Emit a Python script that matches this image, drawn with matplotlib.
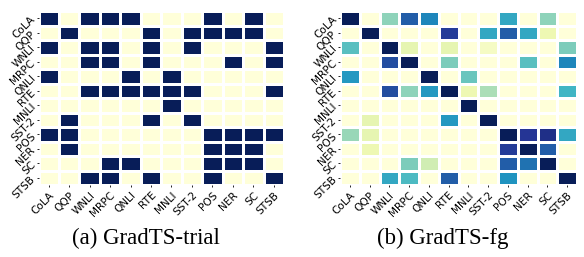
import numpy as np
import matplotlib
matplotlib.use("Agg")
import matplotlib.pyplot as plt
import seaborn as sns

tasks = ["CoLA", "QQP", "WNLI", "MRPC", "QNLI", "RTE", "MNLI", "SST-2", "POS", "NER", "SC", "STSB"]

trial = [
    [1, 0, 1, 1, 1, 0, 0, 0, 1, 0, 1, 0],
    [0, 1, 0, 0, 0, 1, 0, 1, 1, 1, 1, 0],
    [1, 0, 1, 1, 0, 1, 0, 1, 0, 0, 0, 1],
    [0, 0, 1, 1, 0, 1, 0, 0, 0, 1, 0, 1],
    [1, 0, 0, 0, 1, 0, 1, 0, 0, 0, 0, 0],
    [0, 0, 1, 1, 1, 1, 1, 1, 0, 0, 0, 1],
    [0, 0, 0, 0, 0, 0, 1, 0, 0, 0, 0, 0],
    [0, 1, 0, 0, 0, 1, 0, 1, 0, 0, 0, 0],
    [1, 1, 0, 0, 0, 0, 0, 0, 1, 1, 1, 1],
    [0, 1, 0, 0, 0, 0, 0, 0, 1, 1, 1, 0],
    [0, 0, 0, 1, 1, 0, 0, 0, 1, 1, 1, 0],
    [0, 0, 1, 1, 0, 1, 0, 0, 1, 0, 0, 1],
]

fg = [
    [1.00, 0.00, 0.35, 0.75, 0.65, 0.00, 0.00, 0.00, 0.55, 0.00, 0.35, 0.00],
    [0.00, 1.00, 0.00, 0.00, 0.00, 0.85, 0.00, 0.55, 0.75, 0.55, 0.12, 0.00],
    [0.45, 0.00, 1.00, 0.15, 0.00, 0.15, 0.00, 0.07, 0.00, 0.00, 0.00, 0.38],
    [0.00, 0.00, 0.80, 1.00, 0.00, 0.38, 0.00, 0.00, 0.00, 0.45, 0.00, 0.65],
    [0.60, 0.00, 0.00, 0.00, 1.00, 0.00, 0.42, 0.00, 0.00, 0.00, 0.00, 0.00],
    [0.00, 0.00, 0.80, 0.35, 0.60, 1.00, 0.12, 0.30, 0.00, 0.00, 0.00, 0.50],
    [0.00, 0.00, 0.00, 0.00, 0.00, 0.00, 1.00, 0.00, 0.00, 0.00, 0.00, 0.00],
    [0.00, 0.15, 0.00, 0.00, 0.00, 0.60, 0.00, 1.00, 0.00, 0.00, 0.00, 0.00],
    [0.33, 0.15, 0.00, 0.00, 0.00, 0.00, 0.00, 0.00, 1.00, 0.87, 0.90, 0.55],
    [0.00, 0.12, 0.00, 0.00, 0.00, 0.00, 0.00, 0.00, 0.85, 1.00, 0.75, 0.00],
    [0.00, 0.00, 0.00, 0.38, 0.22, 0.00, 0.00, 0.00, 0.75, 0.70, 1.00, 0.00],
    [0.00, 0.00, 0.55, 0.48, 0.00, 0.75, 0.00, 0.00, 0.62, 0.00, 0.00, 1.00],
]

captions = ["(a) GradTS-trial", "(b) GradTS-fg"]

fig = plt.figure(figsize=(5.84, 2.57), dpi=100)
ax1 = fig.add_axes([38.5 / 584, 1 - 185 / 257, (284 - 38.5) / 584, (185 - 11) / 257])
ax2 = fig.add_axes([340 / 584, 1 - 185 / 257, (577 - 340) / 584, (185 - 11) / 257])

for ax, data, cap in zip([ax1, ax2], [trial, fg], captions):
    sns.heatmap(np.array(data), ax=ax, cmap="YlGnBu", vmin=0, vmax=1, cbar=False,
                linewidths=1, linecolor="white",
                xticklabels=tasks, yticklabels=tasks)
    ax.set_xticklabels(tasks, rotation=45, ha="right", rotation_mode="anchor", fontsize=7.6)
    ax.set_yticklabels(tasks, rotation=45, ha="right", va="center", rotation_mode="anchor", fontsize=7.6)
    ax.tick_params(length=1.5, width=0.6, pad=2)

fig.text(146 / 584, 1 - 238 / 257, captions[0], ha="center", va="center",
         fontsize=16.5, family="Liberation Serif")
fig.text(443 / 584, 1 - 238 / 257, captions[1], ha="center", va="center",
         fontsize=16.5, family="Liberation Serif")

fig.savefig("out.png", dpi=100)
